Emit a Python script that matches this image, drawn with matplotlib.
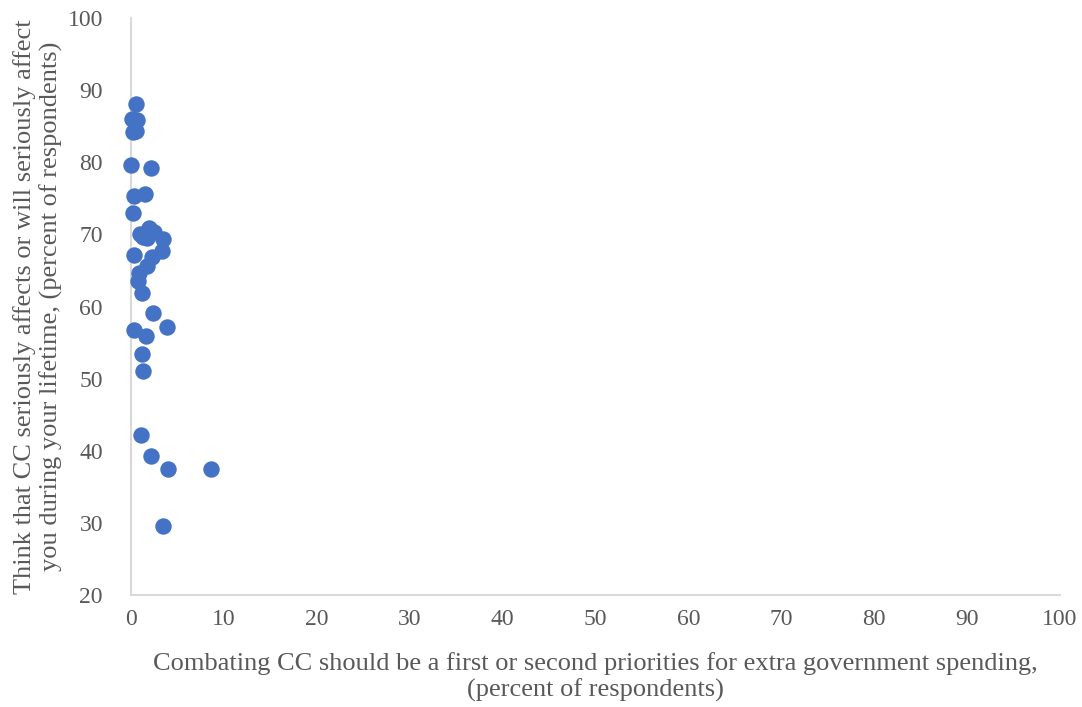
import matplotlib
matplotlib.use('Agg')
import matplotlib.pyplot as plt

# share of respondents: spending priority (x) vs. lifetime impact (y)
priority_pct = [0.54, 0.1, 0.7, 0.3, 0.6, 0.03, 2.18, 1.54, 0.36, 0.22,
                1.0, 1.3, 1.7, 2.0, 2.5, 3.44, 0.36, 3.4, 2.26, 1.72,
                0.93, 0.82, 1.18, 2.37, 0.36, 3.87, 1.65, 1.18, 1.36,
                1.11, 2.15, 4.05, 8.6, 3.44]
affect_pct = [88.1, 86.0, 85.8, 84.2, 84.4, 79.6, 79.2, 75.6, 75.3, 73.0,
              70.1, 69.6, 69.5, 70.9, 70.4, 69.4, 67.2, 67.7, 66.9, 65.6,
              64.7, 63.5, 61.9, 59.1, 56.8, 57.1, 55.9, 53.4, 51.1,
              42.2, 39.3, 37.5, 37.5, 29.5]

plt.rcParams['font.family'] = ['Liberation Serif', 'DejaVu Serif']
text_col = '#595959'

fig = plt.figure(figsize=(10.82, 7.07), dpi=100)
ax = fig.add_axes([0.1208, 0.1584, 0.8589, 0.8161])

ax.scatter(priority_pct, affect_pct, s=140, color='#4472C4', zorder=3,
           linewidths=0, clip_on=False)

ax.set_xlim(0, 100)
ax.set_ylim(20, 100)
ax.set_xticks(range(0, 101, 10))
ax.set_yticks(range(20, 101, 10))

for side in ['top', 'right']:
    ax.spines[side].set_visible(False)
for side in ['left', 'bottom']:
    ax.spines[side].set_color('#D9D9D9')
    ax.spines[side].set_linewidth(1.5)

ax.tick_params(length=0, labelsize=17, colors=text_col)
ax.tick_params(axis='x', pad=10)
ax.tick_params(axis='y', pad=20)

ax.set_xlabel('Combating CC should be a first or second priorities for extra government spending,\n'
              '(percent of respondents)', fontsize=19, color=text_col, labelpad=16,
              linespacing=1.2)
ax.set_ylabel('Think that CC seriously affects or will seriously affect\n'
              'you during your lifetime, (percent of respondents)', fontsize=19,
              color=text_col, labelpad=3, linespacing=1.2)

fig.savefig('out.png', dpi=100)
